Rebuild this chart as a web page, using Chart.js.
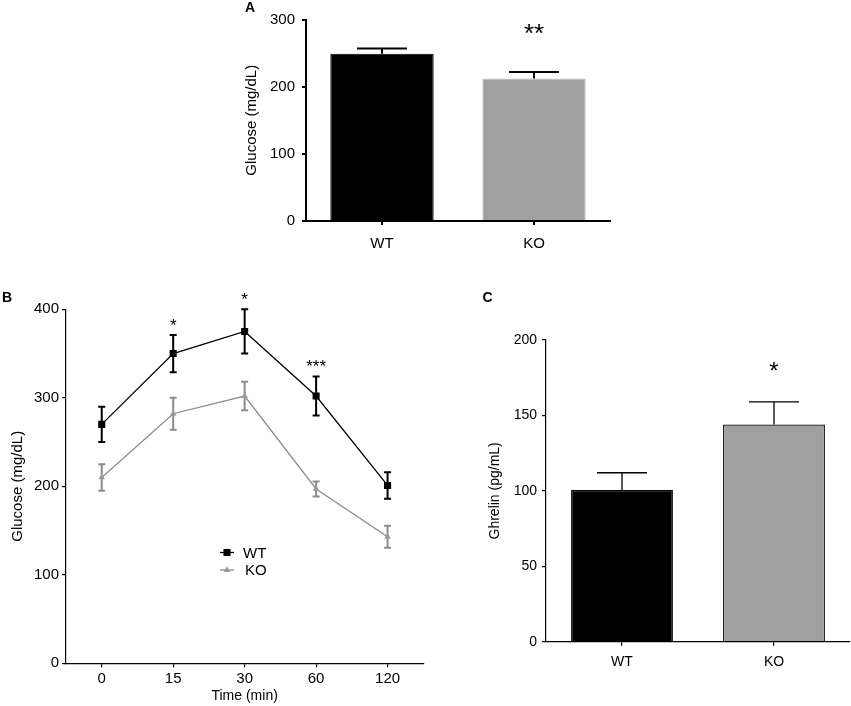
<!DOCTYPE html>
<html><head><meta charset="utf-8">
<script src="https://cdn.jsdelivr.net/npm/chart.js@4.4.0/dist/chart.umd.min.js"></script>
<style>
html,body{margin:0;padding:0;background:#fff;}
body{width:851px;height:706px;position:relative;overflow:hidden;}
canvas{position:absolute;}
</style></head><body>
<canvas id="cA" width="390" height="260" style="left:230px;top:0px"></canvas>
<canvas id="cB" width="440" height="426" style="left:0px;top:280px"></canvas>
<canvas id="cC" width="381" height="426" style="left:470px;top:280px"></canvas>
<script>
// ---------- Panel A: fasting glucose ----------
const groups = ['WT', 'KO'];
const glucoseA = [249, 212];
const glucoseA_sem = [8, 10];
const sigA = ['', '**'];
const yTicksA = [0, 100, 200, 300];

// ---------- Panel B: glucose tolerance ----------
const timeLabels = ['0', '15', '30', '60', '120'];
const glucoseWT = [270, 350, 375, 302, 201];
const glucoseWT_sem = [20, 21, 25, 22, 15];
const glucoseKO = [210, 282, 302, 197, 143];
const glucoseKO_sem = [15, 18, 16, 8.5, 12.5];
const sigB = ['', '*', '*', '***', ''];
const yTicksB = [0, 100, 200, 300, 400];

// ---------- Panel C: ghrelin ----------
const ghrelin = [100.5, 144];
const ghrelin_sem = [11.5, 15];
const sigC = ['', '*'];
const yTicksC = [0, 50, 100, 150, 200];

const FONT = "'Liberation Sans', Arial, Helvetica, sans-serif";
Chart.defaults.font.family = FONT;
Chart.defaults.color = '#000';
Chart.defaults.animation = false;

function axisStyle(lw, tl) {
  return {
    grid: {display: true, drawOnChartArea: false, drawTicks: true, tickLength: tl, color: '#000', lineWidth: lw, offset: false},
    border: {display: true, color: '#000', width: lw}
  };
}

function panelLetter(letter, x, y) {
  return {
    id: 'letter' + letter,
    afterDraw(chart) {
      const ctx = chart.ctx;
      ctx.save();
      ctx.font = 'bold 14px ' + FONT;
      ctx.fillStyle = '#000';
      ctx.textAlign = 'center';
      ctx.textBaseline = 'middle';
      ctx.fillText(letter, x, y);
      ctx.restore();
    }
  };
}

function barErrors(values, sems, sig, lw, cap, sigSize, sigGap) {
  return {
    id: 'barErrors',
    afterDatasetsDraw(chart) {
      const ctx = chart.ctx, ys = chart.scales.y;
      const meta = chart.getDatasetMeta(0);
      ctx.save();
      ctx.strokeStyle = '#000';
      ctx.lineWidth = lw;
      meta.data.forEach((bar, i) => {
        const x = bar.x;
        const yv = ys.getPixelForValue(values[i]);
        const yt = ys.getPixelForValue(values[i] + sems[i]);
        ctx.beginPath();
        ctx.moveTo(x, yv); ctx.lineTo(x, yt);
        ctx.moveTo(x - cap / 2, yt); ctx.lineTo(x + cap / 2, yt);
        ctx.stroke();
        if (sig[i]) {
          ctx.fillStyle = '#000';
          ctx.font = sigSize + 'px ' + FONT;
          ctx.textAlign = 'center';
          ctx.textBaseline = 'alphabetic';
          ctx.fillText(sig[i], x, yt - sigGap + 0.57 * sigSize);
        }
      });
      ctx.restore();
    }
  };
}

// ---------- Chart A ----------
new Chart(document.getElementById('cA'), {
  type: 'bar',
  data: {
    labels: groups,
    datasets: [{
      data: glucoseA,
      backgroundColor: ['#000000', '#a0a0a0'],
      borderColor: ['#000000', '#bdbdbd'],
      borderWidth: 1,
      categoryPercentage: 1,
      barPercentage: 0.68
    }]
  },
  options: {
    responsive: false,
    layout: {padding: {top: 19.5, right: 10, left: 0, bottom: 0}},
    plugins: {legend: {display: false}, tooltip: {enabled: false}},
    scales: {
      x: Object.assign(axisStyle(2, 4), {
        offset: true,
        ticks: {color: '#000', font: {size: 15}, padding: 10},
        afterFit(s) { s.height = 39; }
      }),
      y: Object.assign(axisStyle(2, 4), {
        min: 0, max: 300,
        afterBuildTicks(s) { s.ticks = yTicksA.map(v => ({value: v})); },
        ticks: {color: '#000', font: {size: 15}, padding: 7},
        title: {display: true, text: 'Glucose (mg/dL)', color: '#000', font: {size: 15}, padding: {top: 13, bottom: 0}},
        afterFit(s) { s.width = 76; }
      })
    }
  },
  plugins: [barErrors(glucoseA, glucoseA_sem, sigA, 2, 50, 26, 45), panelLetter('A', 20, 8.5)]
});

// ---------- Chart B ----------
const lineErrors = {
  id: 'lineErrors',
  beforeDatasetsDraw(chart) {
    const ctx = chart.ctx, ys = chart.scales.y;
    const sets = [
      {vals: glucoseWT, sems: glucoseWT_sem, color: '#000000', meta: chart.getDatasetMeta(0)},
      {vals: glucoseKO, sems: glucoseKO_sem, color: '#8c8c8c', meta: chart.getDatasetMeta(1)}
    ];
    ctx.save();
    sets.forEach(s => {
      ctx.strokeStyle = s.color;
      ctx.lineWidth = 2;
      s.meta.data.forEach((pt, i) => {
        const x = pt.x;
        const yt = ys.getPixelForValue(s.vals[i] + s.sems[i]);
        const yb = ys.getPixelForValue(s.vals[i] - s.sems[i]);
        ctx.beginPath();
        ctx.moveTo(x, yt); ctx.lineTo(x, yb);
        ctx.moveTo(x - 3.5, yt); ctx.lineTo(x + 3.5, yt);
        ctx.moveTo(x - 3.5, yb); ctx.lineTo(x + 3.5, yb);
        ctx.stroke();
      });
    });
    // significance marks above WT error bars
    const meta = chart.getDatasetMeta(0);
    ctx.fillStyle = '#000';
    ctx.font = '17px ' + FONT;
    ctx.textAlign = 'center';
    ctx.textBaseline = 'alphabetic';
    meta.data.forEach((pt, i) => {
      if (!sigB[i]) return;
      const yt = ys.getPixelForValue(glucoseWT[i] + glucoseWT_sem[i]);
      ctx.fillText(sigB[i], pt.x, yt - 14 + 0.57 * 17);
    });
    ctx.restore();
  },
  afterDraw(chart) {
    const ctx = chart.ctx;
    const items = chart.data.datasets;
    ctx.save();
    items.forEach((ds, i) => {
      const y = 272.5 + i * 17.5;
      ctx.strokeStyle = ds.borderColor;
      ctx.lineWidth = ds.borderWidth;
      ctx.beginPath(); ctx.moveTo(220, y); ctx.lineTo(234, y); ctx.stroke();
      ctx.fillStyle = ds.pointBackgroundColor;
      ctx.strokeStyle = ds.pointBorderColor;
      Chart.helpers.drawPoint(ctx, {pointStyle: ds.pointStyle, radius: ds.pointRadius, rotation: 0, borderWidth: 0}, 227, y);
      ctx.fillStyle = '#000';
      ctx.font = '15px ' + FONT;
      ctx.textAlign = 'left';
      ctx.textBaseline = 'middle';
      ctx.fillText(ds.label, 243 + i * 2, y + 1);
    });
    ctx.restore();
  }
};

new Chart(document.getElementById('cB'), {
  type: 'line',
  data: {
    labels: timeLabels,
    datasets: [
      {label: 'WT', data: glucoseWT, borderColor: '#000000', borderWidth: 1.3,
       pointStyle: 'rect', pointRadius: 5, pointBackgroundColor: '#000000', pointBorderColor: '#000000', pointBorderWidth: 0},
      {label: 'KO', data: glucoseKO, borderColor: '#8c8c8c', borderWidth: 1.3,
       pointStyle: 'triangle', pointRadius: 3.8, pointBackgroundColor: '#999999', pointBorderColor: '#999999', pointBorderWidth: 0}
    ]
  },
  options: {
    responsive: false,
    layout: {padding: {top: 29.3, right: 16.7, left: 0, bottom: 0}},
    plugins: {legend: {display: false}, tooltip: {enabled: false}},
    scales: {
      x: Object.assign(axisStyle(1.2, 4), {
        type: 'category', offset: true,
        ticks: {color: '#000', font: {size: 15}, padding: 2.5},
        title: {display: true, text: 'Time (min)', color: '#000', font: {size: 14}, padding: {top: 0, bottom: 1.6}},
        afterFit(s) { s.height = 42.7; }
      }),
      y: Object.assign(axisStyle(1.2, 4), {
        min: 0, max: 400,
        afterBuildTicks(s) { s.ticks = yTicksB.map(v => ({value: v})); },
        ticks: {color: '#000', font: {size: 15}, padding: 3},
        title: {display: true, text: 'Glucose (mg/dL)', color: '#000', font: {size: 15}, padding: {top: 9, bottom: 0}},
        afterFit(s) { s.width = 66; }
      })
    }
  },
  plugins: [lineErrors, panelLetter('B', 7, 18.5)]
});

// ---------- Chart C ----------
new Chart(document.getElementById('cC'), {
  type: 'bar',
  data: {
    labels: groups,
    datasets: [{
      data: ghrelin,
      backgroundColor: ['#000000', '#a0a0a0'],
      borderColor: ['#000000', '#000000'],
      borderWidth: 1.2,
      categoryPercentage: 1,
      barPercentage: 0.67
    }]
  },
  options: {
    responsive: false,
    layout: {padding: {top: 60, right: 1, left: 0, bottom: 0}},
    plugins: {legend: {display: false}, tooltip: {enabled: false}},
    scales: {
      x: Object.assign(axisStyle(1.2, 4), {
        offset: true,
        ticks: {color: '#000', font: {size: 14}, padding: 8},
        afterFit(s) { s.height = 64.3; }
      }),
      y: Object.assign(axisStyle(1.2, 4), {
        min: 0, max: 200,
        afterBuildTicks(s) { s.ticks = yTicksC.map(v => ({value: v})); },
        ticks: {color: '#000', font: {size: 14}, padding: 5},
        title: {display: true, text: 'Ghrelin (pg/mL)', color: '#000', font: {size: 14}, padding: {top: 16.6, bottom: 0}},
        afterFit(s) { s.width = 76; }
      })
    }
  },
  plugins: [barErrors(ghrelin, ghrelin_sem, sigC, 1.3, 50, 24, 37), panelLetter('C', 17.5, 18.5)]
});
</script>
</body></html>
